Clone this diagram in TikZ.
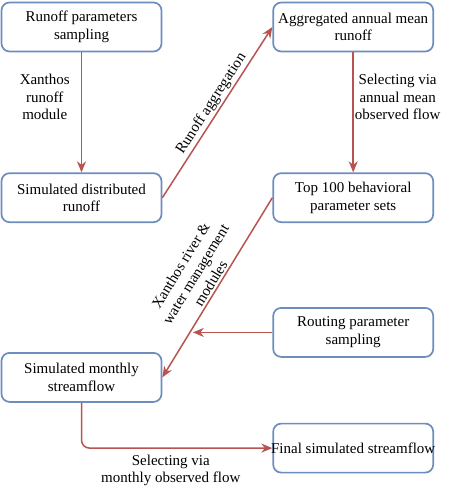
\documentclass[tikz,border=0pt]{standalone}
\usepackage{fontspec}
\setmainfont{Liberation Serif}
\usepackage{tikz}
\usetikzlibrary{
	positioning,
	arrows.meta
}
\definecolor{boxblue}{HTML}{6C8EBF}
\definecolor{flowred}{HTML}{B85450}

\begin{document}
\begin{tikzpicture}[
		x=1pt, y=1pt,
		font=\fontsize{15}{17.5}\selectfont,
		box/.style={draw=boxblue, line width=1.7pt, rounded corners=8pt,
			minimum width=160pt, minimum height=49pt, align=center, inner sep=2pt},
		flow/.style={draw=flowred, line width=1.5pt,
			-{Stealth[length=11pt,width=9pt,inset=3.5pt]}},
		lbl/.style={align=center, inner sep=2pt}
	]
		\useasboundingbox (0,0) rectangle (452,-502);

		\draw
			node[box]                    (A) at (81.5,-27) {Runoff parameters\\sampling}
			node[box,right=110pt of A]   (B) {Aggregated annual mean\\runoff}
			node[box,below=120pt of A]   (C) {Simulated distributed\\runoff}
			node[box,right=110pt of C]   (D) {Top 100 behavioral\\parameter sets}
			node[box,below=84pt of D]    (E) {Routing parameter\\sampling}
			node[box,below=129pt of C]   (F) {Simulated monthly\\streamflow}
			node[box,below=65pt of E]    (G) {\makebox[150pt]{Final simulated streamflow}}
		;

		\draw[flow] (A) -- node[lbl,left=9pt,pos=0.375] {Xanthos\\runoff\\module} (C);
		\draw[flow] (B) -- node[lbl,right=0pt,pos=0.375,inner sep=1pt] {Selecting via\\annual mean\\observed flow} (D);
		\draw[flow] (C.east) -- node[lbl,sloped,above,pos=0.52] {Runoff aggregation} (B.west);
		\draw[flow] (D.west) -- node[lbl,sloped,above,pos=0.5] {Xanthos river \&\\water management\\modules} (F.east);

		% routing parameters join the river modules
		\path (D.west) -- coordinate[pos=0.75] (join) (F.east);
		\draw[flow,shorten >=3pt] (E.west) -- (E.west -| join);

		\draw[flow,rounded corners=8pt] (F) |- node[lbl,below=4pt,pos=0.734] {Selecting via\\monthly observed flow} (G);
	\end{tikzpicture}
\end{document}
